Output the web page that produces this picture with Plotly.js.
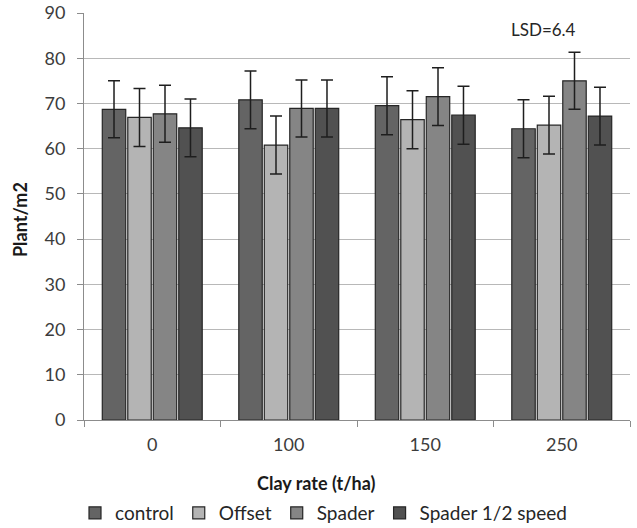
<!DOCTYPE html>
<html>
<head>
<meta charset="utf-8">
<script src="https://cdn.plot.ly/plotly-3.0.1.min.js"></script>
<style>html,body{margin:0;padding:0;background:#fff;} #chart{width:637px;height:528px;}</style>
</head>
<body>
<div id="chart"></div>
<script>
const categories = ["0", "100", "150", "250"];
const seriesNames = ["control", "Offset", "Spader", "Spader 1/2 speed"];
const control = [68.7, 70.8, 69.5, 64.4];
const offset = [66.9, 60.8, 66.4, 65.2];
const spader = [67.7, 68.9, 71.5, 75.0];
const spaderHalf = [64.6, 68.9, 67.4, 67.2];
const controlErr = [6.3, 6.4, 6.4, 6.4];
const offsetErr = [6.4, 6.4, 6.4, 6.4];
const spaderErr = [6.3, 6.3, 6.4, 6.3];
const spaderHalfErr = [6.4, 6.3, 6.4, 6.4];
const yTicks = [0, 10, 20, 30, 40, 50, 60, 70, 80, 90];
const lsdText = "LSD=6.4";
const xTitle = "Clay rate (t/ha)";
const yTitle = "Plant/m2";

const values = [control, offset, spader, spaderHalf];
const errs = [controlErr, offsetErr, spaderErr, spaderHalfErr];
const colors = ["#646464", "#b4b4b4", "#858585", "#515151"];
const FONT = "Lato, 'Open Sans', sans-serif";

const traces = values.map((v, i) => ({
  type: "bar",
  name: seriesNames[i],
  x: categories,
  y: v,
  marker: {color: colors[i], line: {color: "#262626", width: 1.2}},
  error_y: {type: "data", array: errs[i], visible: true, color: "#1e1e1e", thickness: 1.5, width: 6}
}));

const layout = {
  width: 637, height: 528,
  margin: {l: 84, r: 7, t: 13, b: 108, autoexpand: false},
  paper_bgcolor: "#ffffff", plot_bgcolor: "#ffffff",
  barmode: "group", bargap: 0.253, bargroupgap: 0.08,
  showlegend: true,
  legend: {orientation: "h", xref: "container", x: 75 / 637, xanchor: "left", yref: "container", y: (528 - 513) / 528, yanchor: "middle",
           font: {family: FONT, size: 19, color: "#262626"}, itemwidth: 30, tracegroupgap: 0},
  xaxis: {type: "category", range: [-0.5, 3.5], tickson: "boundaries", ticks: "outside", ticklen: 6,
          tickcolor: "#8c8c8c", showline: true, linecolor: "#8c8c8c", linewidth: 1, showgrid: false,
          tickfont: {family: FONT, size: 18, color: "#3c3c3c"}, ticklabelstandoff: 8, fixedrange: true},
  yaxis: {range: [0, 90], tickvals: yTicks, ticks: "outside", ticklen: 6, tickcolor: "#8c8c8c",
          showline: true, linecolor: "#8c8c8c", linewidth: 1, showgrid: true, gridcolor: "#b8b8b8", gridwidth: 1,
          zeroline: false, tickfont: {family: FONT, size: 18, color: "#3c3c3c"}, ticklabelstandoff: 8},
  annotations: [
    {text: lsdText, xref: "paper", yref: "paper", x: (543 - 84) / 546, y: (420 - 30) / 407,
     showarrow: false, xanchor: "center", yanchor: "middle", font: {family: FONT, size: 17, color: "#262626"}},
    {text: "<b>" + xTitle + "</b>", xref: "paper", yref: "paper", x: (316 - 84) / 546, y: (420 - 483) / 407,
     showarrow: false, xanchor: "center", yanchor: "middle", font: {family: FONT, size: 18, color: "#1a1a1a"}},
    {text: "<b>" + yTitle + "</b>", xref: "paper", yref: "paper", x: (20 - 84) / 546, y: (420 - 220) / 407,
     showarrow: false, textangle: -90, xanchor: "center", yanchor: "middle", font: {family: FONT, size: 18, color: "#1a1a1a"}}
  ]
};

Plotly.newPlot("chart", traces, layout, {displayModeBar: false, staticPlot: true});
</script>
</body>
</html>
